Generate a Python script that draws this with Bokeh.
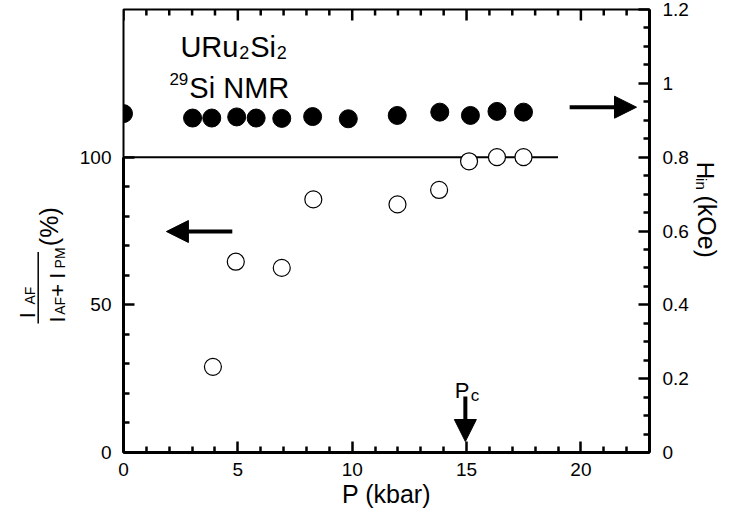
import math
from bokeh.plotting import figure
from bokeh.layouts import row
from bokeh.models import (Range1d, LinearAxis, FixedTicker, Label, Arrow,
                          NormalHead, CustomJSTickFormatter)
from bokeh.embed import file_html
from bokeh.resources import INLINE

# ---------------- data ----------------
p_ratio = [3.91, 4.91, 6.92, 8.30, 11.98, 13.80, 15.11, 16.33, 17.49]      # kbar
ratio_pct = [29.0, 64.6, 62.5, 85.7, 84.0, 88.9, 98.6, 100.0, 100.0]        # I_AF/(I_AF+I_PM) %
p_hin = [0.0, 3.02, 3.86, 4.95, 5.80, 6.92, 8.27, 9.83, 11.97, 13.83, 15.17, 16.33, 17.49]
h_in = [0.918, 0.906, 0.906, 0.909, 0.906, 0.905, 0.910, 0.904, 0.913, 0.922, 0.913, 0.924, 0.922]  # kOe
full_line_p = [0.0, 19.0]
full_line_pct = [100.0, 100.0]

x_major = [0, 5, 10, 15, 20]
x_minor = [v for v in range(1, 23) if v % 5 != 0]
yl_major = [0, 50, 100]
yl_minor = [10, 20, 30, 40, 60, 70, 80, 90]
yr_major = [0, 0.2, 0.4, 0.6, 0.8, 1.0, 1.2]
yr_minor = [round(0.05 * i, 2) for i in range(1, 24) if i % 4 != 0]

X_MAX, YL_MAX, YR_MAX = 23.0, 150.0, 1.2

FONT = "Liberation Sans"
W, H = 727, 515
LEFT_W, RIGHT_W = 76, 34
MAIN_W = W - LEFT_W - RIGHT_W
FL, FR, FT, FB = 122, 649, 9, 452   # frame edges in page pixels

# ---------------- main plot ----------------
p = figure(width=MAIN_W, height=H, x_range=Range1d(0, X_MAX), y_range=Range1d(0, YL_MAX),
           output_backend="svg", toolbar_location=None,
           min_border_left=FL - LEFT_W, min_border_right=(W - RIGHT_W) - FR,
           min_border_top=FT, min_border_bottom=H - FB)
p.extra_y_ranges = {"right": Range1d(0, YR_MAX)}
p.grid.visible = False
p.outline_line_color = "black"
p.outline_line_width = 2
p.background_fill_color = "white"
p.border_fill_color = "white"


def style_axis(ax, lw=3, label_size="19px", standoff=11):
    ax.axis_line_width = lw
    ax.axis_line_color = "black"
    ax.major_tick_in = 11
    ax.major_tick_out = 0
    ax.minor_tick_in = 6
    ax.minor_tick_out = 0
    ax.major_tick_line_width = 2.5
    ax.minor_tick_line_width = 2.5
    ax.major_tick_line_color = "black"
    ax.minor_tick_line_color = "black"
    ax.major_label_text_font = FONT
    ax.major_label_text_font_size = label_size
    ax.major_label_text_color = "black"
    ax.major_label_standoff = standoff


xax = p.xaxis[0]
xax.ticker = FixedTicker(ticks=x_major, minor_ticks=x_minor)
style_axis(xax, standoff=10)
xax.axis_label = "P (kbar)"
xax.axis_label_text_font = FONT
xax.axis_label_text_font_size = "25px"
xax.axis_label_text_font_style = "normal"
xax.axis_label_text_color = "black"
xax.axis_label_standoff = 1

yax = p.yaxis[0]
yax.ticker = FixedTicker(ticks=yl_major, minor_ticks=yl_minor)
yax.bounds = (0, 100)
style_axis(yax, standoff=12)

rax = LinearAxis(y_range_name="right",
                 ticker=FixedTicker(ticks=yr_major, minor_ticks=yr_minor),
                 formatter=CustomJSTickFormatter(code="return Number(tick.toFixed(2)).toString()"))
style_axis(rax, standoff=13)
p.add_layout(rax, "right")

XS = (FR - FL) / X_MAX
YS = (FB - FT) / YL_MAX
HS = (FB - FT) / YR_MAX


# top-edge inward ticks, drawn from the same tick lists
def top_ticks(vals, length):
    n = len(vals)
    p.segment(x0=vals, y0=[YL_MAX] * n, x1=vals, y1=[YL_MAX - length / YS] * n,
              line_color="black", line_width=2.5)


top_ticks(x_major, 11)
top_ticks(x_minor, 6)

# ---------------- marks ----------------
p.line(full_line_p, full_line_pct, line_color="black", line_width=2)
p.scatter(p_hin, h_in, y_range_name="right", size=18, marker="circle",
          fill_color="black", line_color="black")
p.scatter(p_ratio, ratio_pct, size=17, marker="circle", fill_color="white",
          line_color="black", line_width=1.2)


# ---------------- texts and arrows inside the frame (page pixels) ----------------
def dx(px):
    return (px - FL) / XS


def dy(py):
    return (FB - py) / YS


def dh(py):
    return (FB - py) / HS


def add_text(fig, text, x, y, size, angle=0.0, align="left"):
    fig.add_layout(Label(x=x, y=y, text=text, text_font=FONT,
                         text_font_size=f"{size}px", angle=angle, text_align=align,
                         text_baseline="alphabetic", text_color="black"))


def inner_text(text, px, py, size):
    add_text(p, text, dx(px), dy(py), size)


inner_text("URu", 179, 46.7, 29)
inner_text("2", 238, 52, 18)
inner_text("Si", 249, 46.7, 29)
inner_text("2", 275.5, 52, 18)
inner_text("29", 168, 78, 17)
inner_text("Si NMR", 188, 87, 29)
inner_text("P", 454, 390, 22)
inner_text("c", 470, 395, 17)

head = dict(size=22, fill_color="black", line_color="black", line_width=1)
p.add_layout(Arrow(end=NormalHead(**head), x_start=dx(231), y_start=dy(231),
                   x_end=dx(165), y_end=dy(231), line_width=4, line_color="black"))
p.add_layout(Arrow(end=NormalHead(**head), x_start=dx(569), y_start=dh(106.7),
                   x_end=dx(636), y_end=dh(106.7), y_range_name="right",
                   line_width=4, line_color="black"))
p.add_layout(Arrow(end=NormalHead(**head), x_start=dx(464.5), y_start=dy(396),
                   x_end=dx(464.5), y_end=dy(441), line_width=4, line_color="black"))


# ---------------- side panels holding the rotated axis titles ----------------
def side_fig(x0, w):
    f = figure(width=w, height=H, x_range=Range1d(x0, x0 + w), y_range=Range1d(H, 0),
               output_backend="svg", toolbar_location=None, x_axis_type=None,
               y_axis_type=None, min_border=0)
    f.grid.visible = False
    f.outline_line_color = None
    f.background_fill_color = "white"
    f.border_fill_color = "white"
    return f


left = side_fig(0, LEFT_W)
up = math.pi / 2
add_text(left, "I", 27, 359, 22, up)
add_text(left, "AF", 29, 343, 14, up)
add_text(left, "I", 57, 364, 22, up)
add_text(left, "AF", 59, 355, 14, up)
add_text(left, "+", 57, 334, 22, up)
add_text(left, "I", 57, 313, 22, up)
add_text(left, "PM", 59, 301, 14, up)
add_text(left, "(%)", 48, 252.5, 25, up, align="center")
left.line([37.7, 37.7], [282, 365], line_color="black", line_width=1.5)

right = side_fig(W - RIGHT_W, RIGHT_W)
down = -math.pi / 2
add_text(right, "H", 705, 177, 24, down)
add_text(right, "in", 701, 196, 15, down)
add_text(right, "(kOe)", 706, 252.5, 25, down, align="center")

layout = row(left, p, right, spacing=0)
open("out.html", "w").write(file_html(layout, INLINE))
